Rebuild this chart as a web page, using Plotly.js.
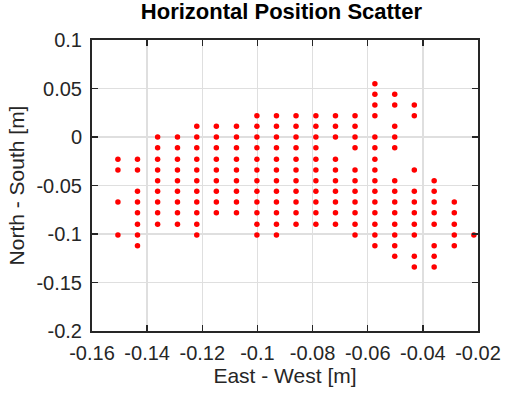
<!DOCTYPE html>
<html>
<head>
<meta charset="utf-8">
<script src="https://cdn.plot.ly/plotly-3.0.1.min.js"></script>
<style>html,body{margin:0;padding:0;background:#fff;}#chart{width:528px;height:396px;}</style>
</head>
<body>
<div id="chart"></div>
<script>
// East-West position of each column of points [m]
const eastCols = [-0.1506, -0.1435, -0.1362, -0.1290, -0.1220, -0.1149, -0.1076, -0.1002, -0.0931, -0.0860,
                  -0.0788, -0.0717, -0.0646, -0.0574, -0.0502, -0.0431, -0.0359, -0.0286, -0.0215];
// North-South position of each row [m]
const northRows = [0.055, 0.044, 0.033, 0.022, 0.011, 0.000, -0.011, -0.023, -0.034, -0.045,
                   -0.056, -0.067, -0.078, -0.090, -0.101, -0.112, -0.123, -0.134];
// Rows (indices into northRows) occupied in each column
const rowsInCol = [
  [7, 8, 11, 14],
  [7, 8, 10, 11, 12, 13, 14, 15],
  [5, 6, 7, 8, 9, 10, 11, 12, 13],
  [5, 6, 7, 8, 9, 10, 11, 12, 13],
  [4, 5, 6, 7, 8, 9, 10, 11, 12, 13, 14],
  [4, 5, 6, 7, 8, 9, 10, 11, 12],
  [4, 5, 6, 7, 8, 9, 10, 11, 12],
  [3, 4, 5, 6, 7, 8, 9, 10, 11, 12, 13, 14],
  [3, 4, 5, 6, 7, 8, 9, 10, 11, 12, 13, 14],
  [3, 4, 5, 6, 7, 8, 9, 10, 11, 12, 13],
  [3, 4, 5, 6, 7, 8, 9, 10, 11, 12, 13],
  [3, 4, 5, 7, 8, 9, 10, 11, 12, 13],
  [3, 4, 5, 6, 8, 9, 10, 11, 12, 13, 14],
  [0, 1, 2, 3, 5, 6, 7, 8, 9, 10, 11, 12, 13, 14, 15],
  [1, 2, 4, 5, 6, 9, 10, 11, 12, 13, 14, 15, 16],
  [2, 3, 8, 10, 11, 12, 13, 14, 16, 17],
  [9, 10, 11, 12, 13, 15, 16, 17],
  [11, 12, 13, 14, 15],
  [14]
];
const xTicks = [-0.16, -0.14, -0.12, -0.1, -0.08, -0.06, -0.04, -0.02];
const xTickText = ['-0.16', '-0.14', '-0.12', '-0.1', '-0.08', '-0.06', '-0.04', '-0.02'];
const yTicks = [0.1, 0.05, 0, -0.05, -0.1, -0.15, -0.2];
const yTickText = ['0.1', '0.05', '0', '-0.05', '-0.1', '-0.15', '-0.2'];

const xs = [], ys = [];
rowsInCol.forEach((rows, c) => {
  rows.forEach(r => { xs.push(eastCols[c]); ys.push(northRows[r]); });
});

const font = 'Liberation Sans, Arial, Helvetica, sans-serif';
const trace = {
  x: xs, y: ys, type: 'scatter', mode: 'markers',
  marker: {color: '#ff0000', size: 5.5, line: {width: 0}},
  hoverinfo: 'none'
};
const axisCommon = {
  showline: true, linecolor: '#262626', linewidth: 2, mirror: 'ticks',
  ticks: 'inside', ticklen: 6, tickwidth: 1.5, tickcolor: '#262626',
  showgrid: true, gridcolor: '#dfdfdf', gridwidth: 1.5,
  zeroline: false, tickfont: {family: font, size: 20, color: '#262626'}
};
const layout = {
  width: 528, height: 396,
  margin: {l: 92, r: 50, t: 40, b: 65},
  paper_bgcolor: '#ffffff', plot_bgcolor: '#ffffff',
  showlegend: false,
  title: {text: '<b>Horizontal Position Scatter</b>', x: 0.533, xanchor: 'center', y: 0.99, yanchor: 'top',
          font: {family: font, size: 22, color: '#000000'}},
  xaxis: Object.assign({}, axisCommon, {
    range: [-0.16, -0.02], tickvals: xTicks, ticktext: xTickText, ticklabelstandoff: 3,
    title: {text: 'East - West [m]', font: {family: font, size: 21, color: '#262626'}, standoff: 4}
  }),
  yaxis: Object.assign({}, axisCommon, {
    range: [-0.2, 0.1], tickvals: yTicks, ticktext: yTickText, ticklabelstandoff: 4,
    title: {text: 'North - South [m]', font: {family: font, size: 21, color: '#262626'}, standoff: 6}
  })
};
Plotly.newPlot('chart', [trace], layout, {staticPlot: true, displayModeBar: false});
</script>
</body>
</html>
